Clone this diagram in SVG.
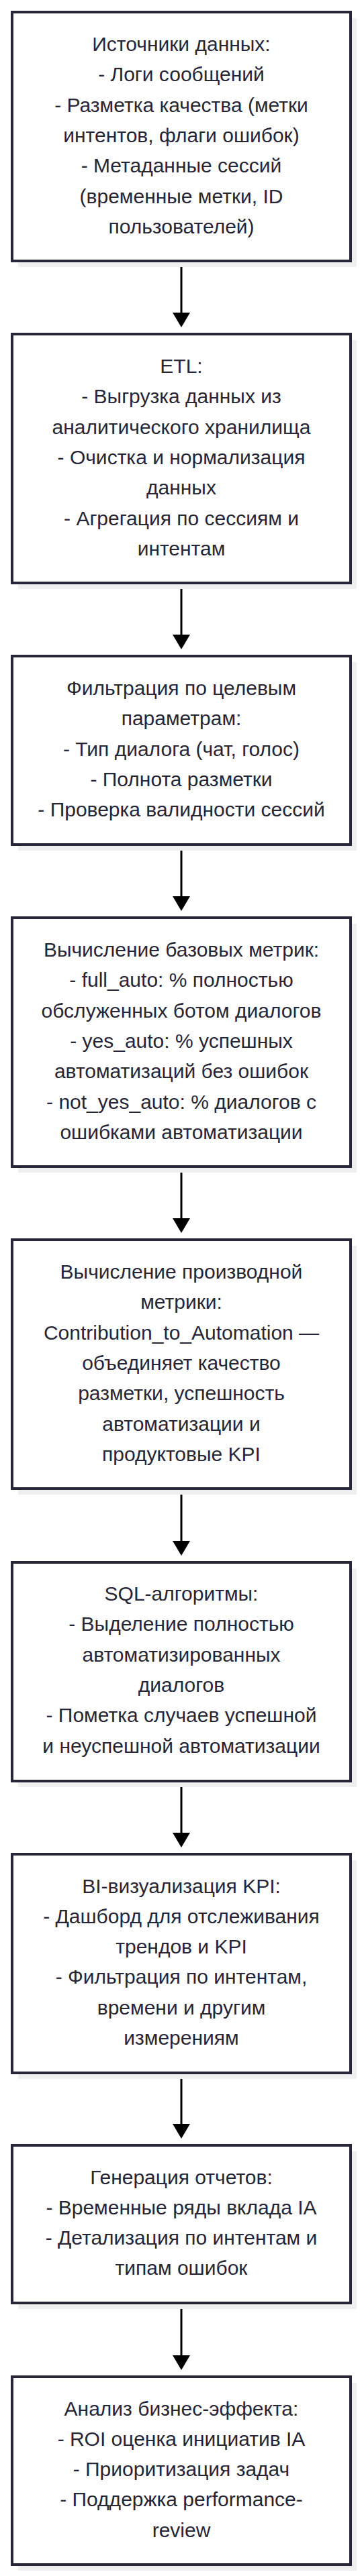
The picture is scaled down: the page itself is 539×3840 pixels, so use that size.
<svg xmlns="http://www.w3.org/2000/svg" width="539" height="3840" viewBox="0 0 539 3840">
<style>
.sh{fill:#efefef;stroke:none}
.bx{fill:#ffffff;stroke:#262638;stroke-width:4}
.t{font-family:"Liberation Sans",Arial,sans-serif;font-size:30px;fill:#262637;text-anchor:middle}
.ln{stroke:#000;stroke-width:3;fill:none}
.ah{fill:#000}
</style>
<rect width="539" height="3840" fill="#ffffff"/>
<g id="connectors">
<line class="ln" x1="270" y1="391" x2="270" y2="468"/><polygon class="ah" points="257,466 283,466 270,488"/>
<line class="ln" x1="270" y1="871" x2="270" y2="948"/><polygon class="ah" points="257,946 283,946 270,968"/>
<line class="ln" x1="270" y1="1261" x2="270" y2="1337"/><polygon class="ah" points="257,1336 283,1336 270,1358"/>
<line class="ln" x1="270" y1="1741" x2="270" y2="1817"/><polygon class="ah" points="257,1816 283,1816 270,1838"/>
<line class="ln" x1="270" y1="2221" x2="270" y2="2298"/><polygon class="ah" points="257,2297 283,2297 270,2319"/>
<line class="ln" x1="270" y1="2657" x2="270" y2="2733"/><polygon class="ah" points="257,2732 283,2732 270,2754"/>
<line class="ln" x1="270" y1="3092" x2="270" y2="3167"/><polygon class="ah" points="257,3166 283,3166 270,3188"/>
<line class="ln" x1="270" y1="3435" x2="270" y2="3512"/><polygon class="ah" points="257,3511 283,3511 270,3533"/>
</g>
<g id="n1">
<rect class="sh" x="27" y="27" width="504" height="371"/>
<rect class="bx" x="18" y="18" width="504" height="371"/>
<text class="t" x="270" y="76">Источники данных:</text>
<text class="t" x="270" y="121.3">- Логи сообщений</text>
<text class="t" x="270" y="166.6">- Разметка качества (метки</text>
<text class="t" x="270" y="211.9">интентов, флаги ошибок)</text>
<text class="t" x="270" y="257.2">- Метаданные сессий</text>
<text class="t" x="270" y="302.5">(временные метки, ID</text>
<text class="t" x="270" y="347.8">пользователей)</text>
</g>
<g id="n2">
<rect class="sh" x="27" y="507" width="504" height="371"/>
<rect class="bx" x="18" y="498" width="504" height="371"/>
<text class="t" x="270" y="556">ETL:</text>
<text class="t" x="270" y="601.3">- Выгрузка данных из</text>
<text class="t" x="270" y="646.6">аналитического хранилища</text>
<text class="t" x="270" y="691.9">- Очистка и нормализация</text>
<text class="t" x="270" y="737.2">данных</text>
<text class="t" x="270" y="782.5">- Агрегация по сессиям и</text>
<text class="t" x="270" y="827.8">интентам</text>
</g>
<g id="n3">
<rect class="sh" x="27" y="987" width="504" height="281"/>
<rect class="bx" x="18" y="978" width="504" height="281"/>
<text class="t" x="270" y="1036">Фильтрация по целевым</text>
<text class="t" x="270" y="1081.3">параметрам:</text>
<text class="t" x="270" y="1126.6">- Тип диалога (чат, голос)</text>
<text class="t" x="270" y="1171.9">- Полнота разметки</text>
<text class="t" x="270" y="1217.2">- Проверка валидности сессий</text>
</g>
<g id="n4">
<rect class="sh" x="27" y="1377" width="504" height="371"/>
<rect class="bx" x="18" y="1368" width="504" height="371"/>
<text class="t" x="270" y="1426">Вычисление базовых метрик:</text>
<text class="t" x="270" y="1471.3">- full_auto: % полностью</text>
<text class="t" x="270" y="1516.6">обслуженных ботом диалогов</text>
<text class="t" x="270" y="1561.9">- yes_auto: % успешных</text>
<text class="t" x="270" y="1607.2">автоматизаций без ошибок</text>
<text class="t" x="270" y="1652.5">- not_yes_auto: % диалогов с</text>
<text class="t" x="270" y="1697.8">ошибками автоматизации</text>
</g>
<g id="n5">
<rect class="sh" x="27" y="1857" width="504" height="371"/>
<rect class="bx" x="18" y="1848" width="504" height="371"/>
<text class="t" x="270" y="1906">Вычисление производной</text>
<text class="t" x="270" y="1951.3">метрики:</text>
<text class="t" x="270" y="1996.6">Contribution_to_Automation —</text>
<text class="t" x="270" y="2041.9">объединяет качество</text>
<text class="t" x="270" y="2087.2">разметки, успешность</text>
<text class="t" x="270" y="2132.5">автоматизации и</text>
<text class="t" x="270" y="2177.8">продуктовые KPI</text>
</g>
<g id="n6">
<rect class="sh" x="27" y="2338" width="504" height="326"/>
<rect class="bx" x="18" y="2329" width="504" height="326"/>
<text class="t" x="270" y="2386">SQL-алгоритмы:</text>
<text class="t" x="270" y="2431.3">- Выделение полностью</text>
<text class="t" x="270" y="2476.6">автоматизированных</text>
<text class="t" x="270" y="2521.9">диалогов</text>
<text class="t" x="270" y="2567.2">- Пометка случаев успешной</text>
<text class="t" x="270" y="2612.5">и неуспешной автоматизации</text>
</g>
<g id="n7">
<rect class="sh" x="27" y="2773" width="504" height="326"/>
<rect class="bx" x="18" y="2764" width="504" height="326"/>
<text class="t" x="270" y="2821.5">BI-визуализация KPI:</text>
<text class="t" x="270" y="2866.8">- Дашборд для отслеживания</text>
<text class="t" x="270" y="2912.1">трендов и KPI</text>
<text class="t" x="270" y="2957.4">- Фильтрация по интентам,</text>
<text class="t" x="270" y="3002.7">времени и другим</text>
<text class="t" x="270" y="3048">измерениям</text>
</g>
<g id="n8">
<rect class="sh" x="27" y="3207" width="504" height="235"/>
<rect class="bx" x="18" y="3198" width="504" height="235"/>
<text class="t" x="270" y="3255.5">Генерация отчетов:</text>
<text class="t" x="270" y="3300.8">- Временные ряды вклада IA</text>
<text class="t" x="270" y="3346.1">- Детализация по интентам и</text>
<text class="t" x="270" y="3391.4">типам ошибок</text>
</g>
<g id="n9">
<rect class="sh" x="27" y="3552" width="504" height="280"/>
<rect class="bx" x="18" y="3543" width="504" height="280"/>
<text class="t" x="270" y="3600.5">Анализ бизнес-эффекта:</text>
<text class="t" x="270" y="3645.8">- ROI оценка инициатив IA</text>
<text class="t" x="270" y="3691.1">- Приоритизация задач</text>
<text class="t" x="270" y="3736.4">- Поддержка performance-</text>
<text class="t" x="270" y="3781.7">review</text>
</g>
</svg>
